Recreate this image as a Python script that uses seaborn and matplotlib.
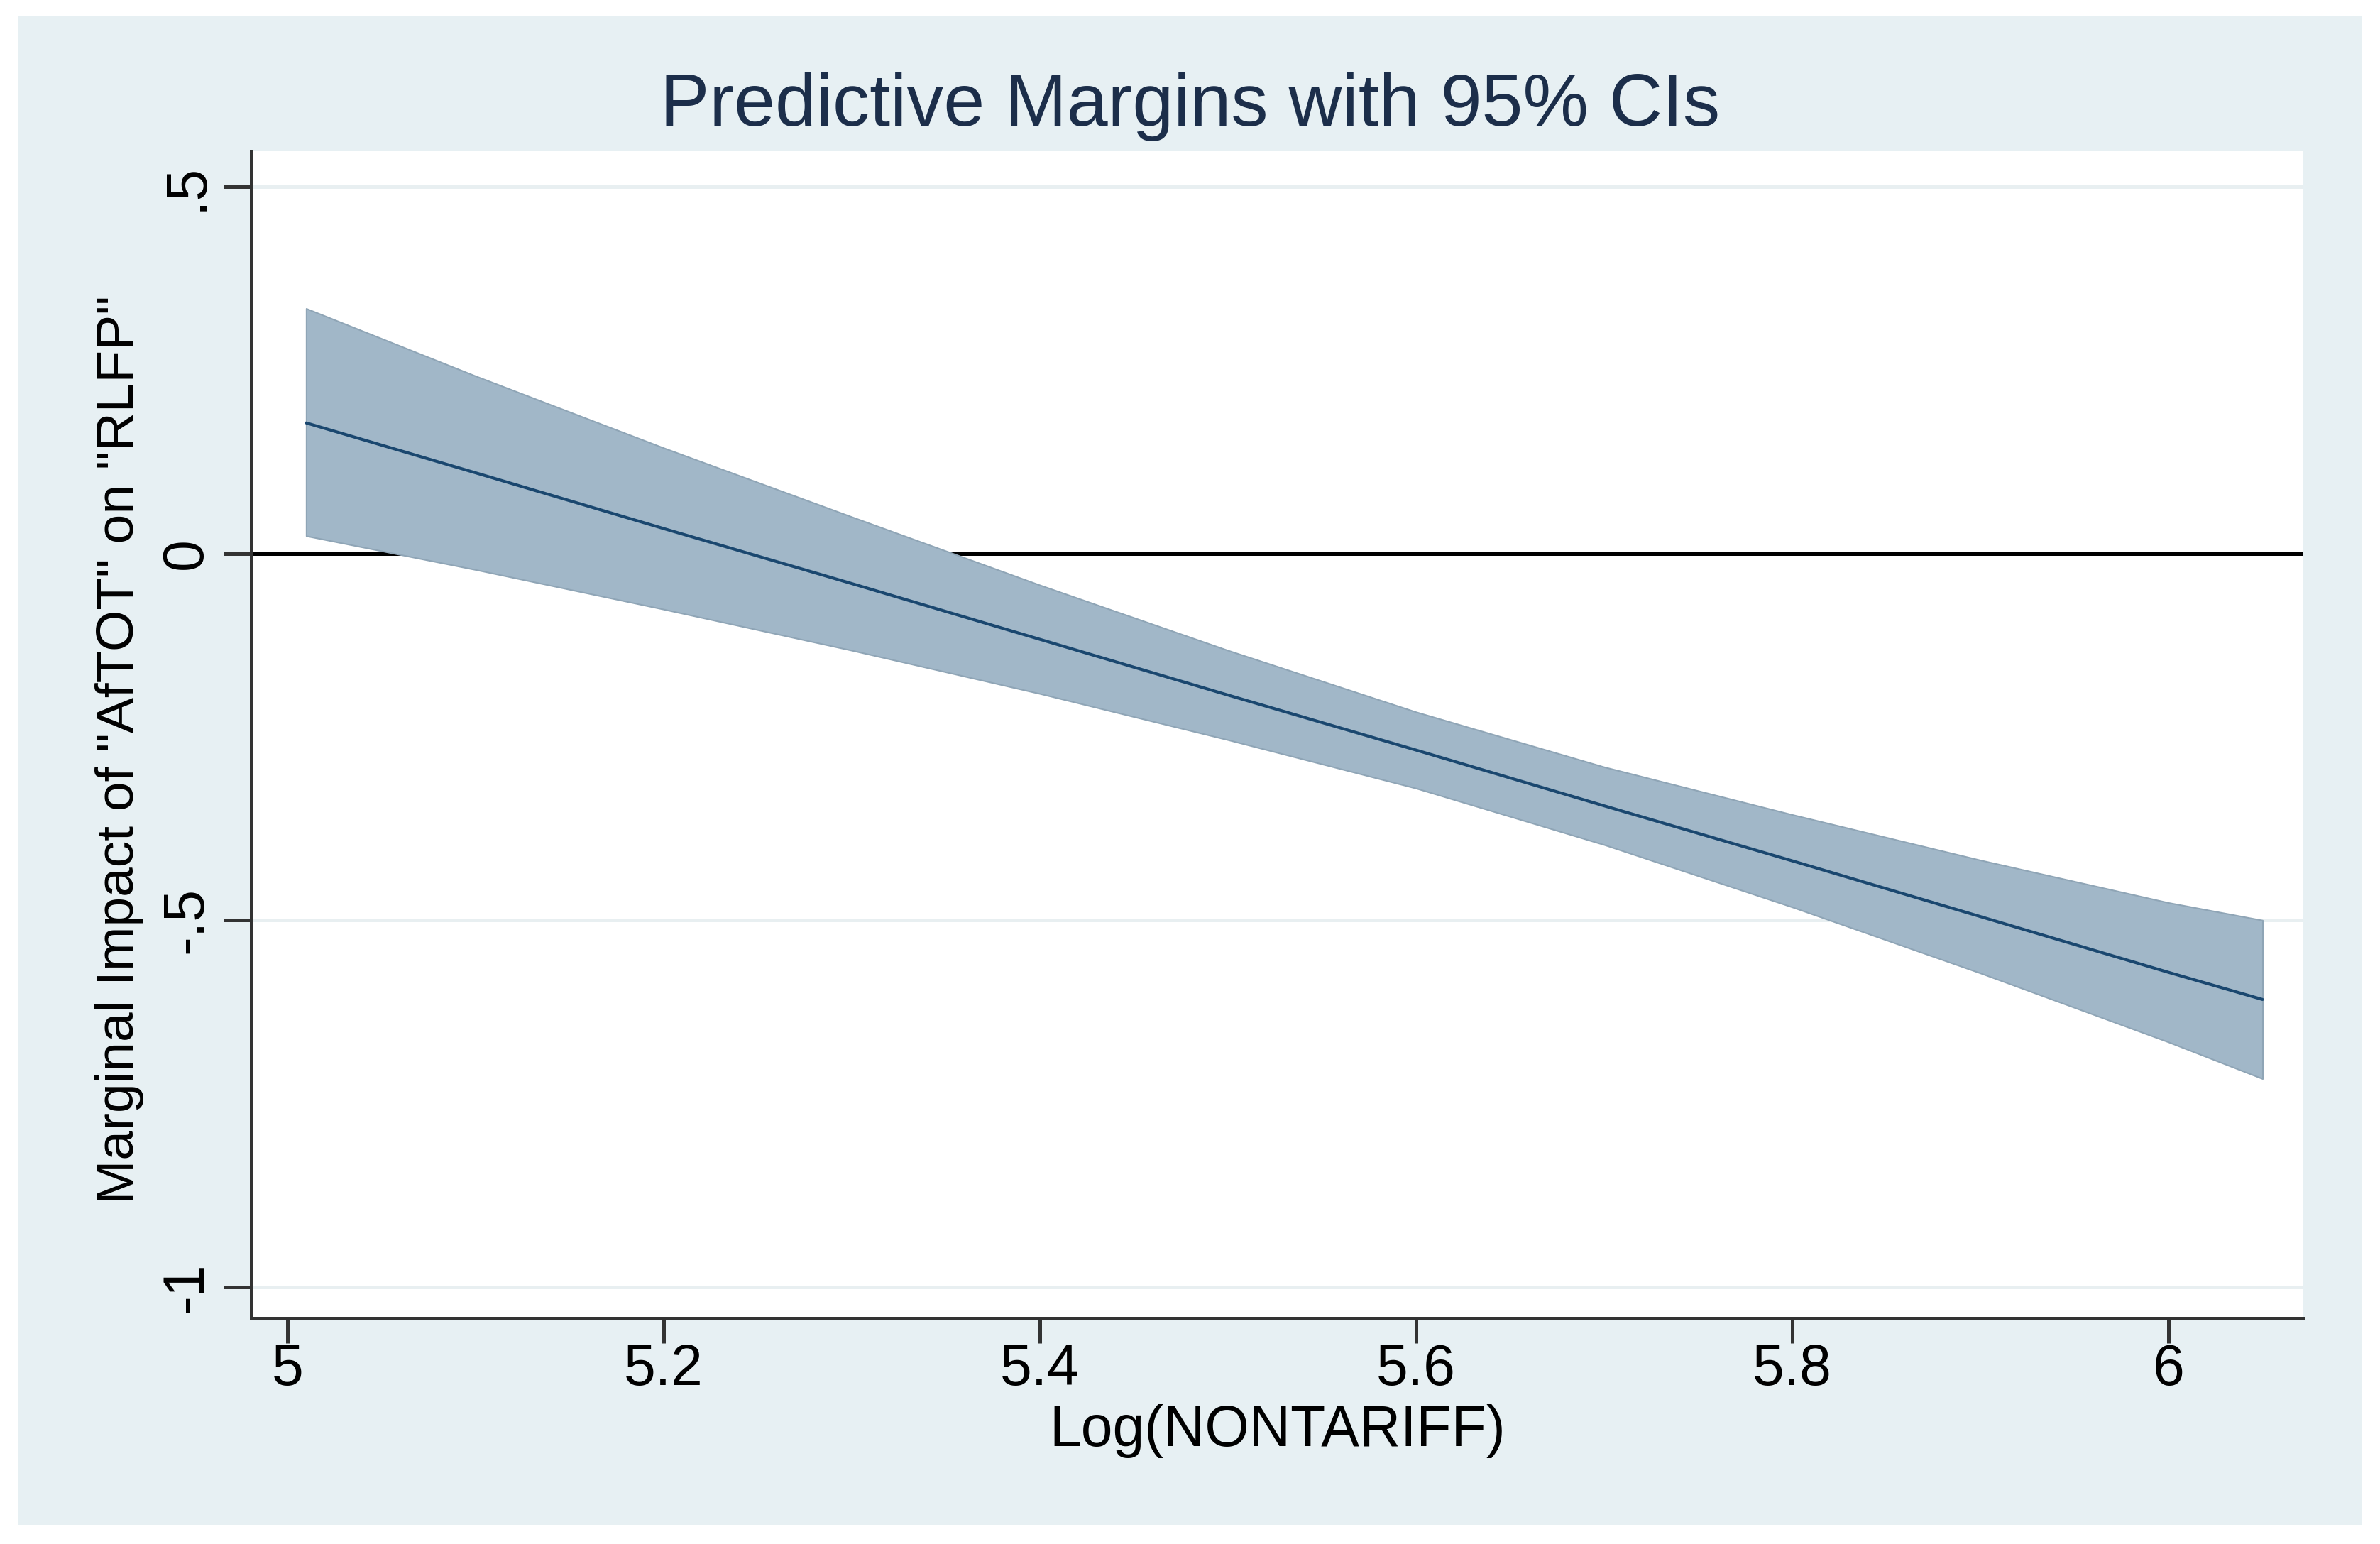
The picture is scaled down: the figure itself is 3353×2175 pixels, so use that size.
import numpy as np
import pandas as pd
import matplotlib
matplotlib.use("Agg")
import matplotlib.pyplot as plt
import seaborn as sns
from matplotlib.patches import Rectangle

# ---- data ----
x_vals = [5.01, 5.1, 5.2, 5.3, 5.4, 5.5, 5.6, 5.7, 5.8, 5.9, 6.0, 6.05]
margin = [0.178, 0.110, 0.034, -0.041, -0.117, -0.193, -0.268, -0.344, -0.419, -0.495, -0.571, -0.608]
ci_high = [0.334, 0.242, 0.144, 0.050, -0.043, -0.132, -0.216, -0.291, -0.356, -0.418, -0.476, -0.500]
ci_low = [0.024, -0.022, -0.076, -0.132, -0.191, -0.254, -0.320, -0.397, -0.482, -0.572, -0.666, -0.716]

x_ticks = [5, 5.2, 5.4, 5.6, 5.8, 6]
x_tick_labels = ["5", "5.2", "5.4", "5.6", "5.8", "6"]
y_ticks = [-1, -0.5, 0, 0.5]
y_tick_labels = ["-1", "-.5", "0", ".5"]
grid_levels = [-1, -0.5, 0.5]

title_text = "Predictive Margins with 95% CIs"
x_label = "Log(NONTARIFF)"
y_label = 'Marginal Impact of "AfTOT" on "RLFP"'

# ---- style ----
sns.set_style("white")
plt.rcParams["font.family"] = ["Liberation Sans", "DejaVu Sans"]

W, H = 3353, 2175
fig = plt.figure(figsize=(W / 100, H / 100), dpi=100, facecolor="white")

# Stata-like light bluish graph region
fig.patches.append(Rectangle((26 / W, 1 - 2148 / H), (3327 - 26) / W, (2148 - 22) / H,
                             transform=fig.transFigure, facecolor="#e7f0f3",
                             edgecolor="none", zorder=-1))

ax = fig.add_axes([354 / W, 1 - 1857 / H, (3245 - 354) / W, (1857 - 213) / H])
ax.set_facecolor("white")

df = pd.DataFrame({"x": x_vals, "margin": margin, "lo": ci_low, "hi": ci_high})

for yv in grid_levels:
    ax.axhline(yv, color="#e8eff1", lw=3.6, zorder=0.5)
ax.axhline(0, color="black", lw=3.6, zorder=1)

ax.fill_between(df["x"], df["lo"], df["hi"], facecolor="#a1b7c8",
                edgecolor="#8fa5b6", lw=1.5, zorder=2)
sns.lineplot(data=df, x="x", y="margin", color="#1a476f", lw=3, ax=ax, zorder=3)

ax.set_xlim(4.9808, 6.0717)
ax.set_ylim(-1.0426, 0.5484)

for s in ["top", "right"]:
    ax.spines[s].set_visible(False)
for s in ["left", "bottom"]:
    ax.spines[s].set_color("#333333")
    ax.spines[s].set_linewidth(3.6)

ax.set_xticks(x_ticks, x_tick_labels)
ax.set_yticks(y_ticks, y_tick_labels, rotation=90, va="center")
ax.tick_params(axis="x", direction="out", length=25, width=3.6, color="#333333",
               pad=0, labelsize=58, labelcolor="black", bottom=True)
ax.tick_params(axis="y", direction="out", length=28, width=3.6, color="#333333",
               pad=10, labelsize=58, labelcolor="black", left=True)

ax.set_xlabel(x_label, fontsize=58, va="baseline", color="black")
ax.xaxis.set_label_coords(0.5, (1857 - 2037) / 1644)
ax.set_ylabel(y_label, fontsize=54, va="baseline", color="black")
ax.yaxis.set_label_coords((188 - 354) / 2891, (1857 - 1056) / 1644)

fig.text(1677 / W, 1 - 177 / H, title_text, ha="center", va="baseline",
         fontsize=75, color="#1c2e4a")

fig.savefig("out.png", dpi=100, facecolor="white")
